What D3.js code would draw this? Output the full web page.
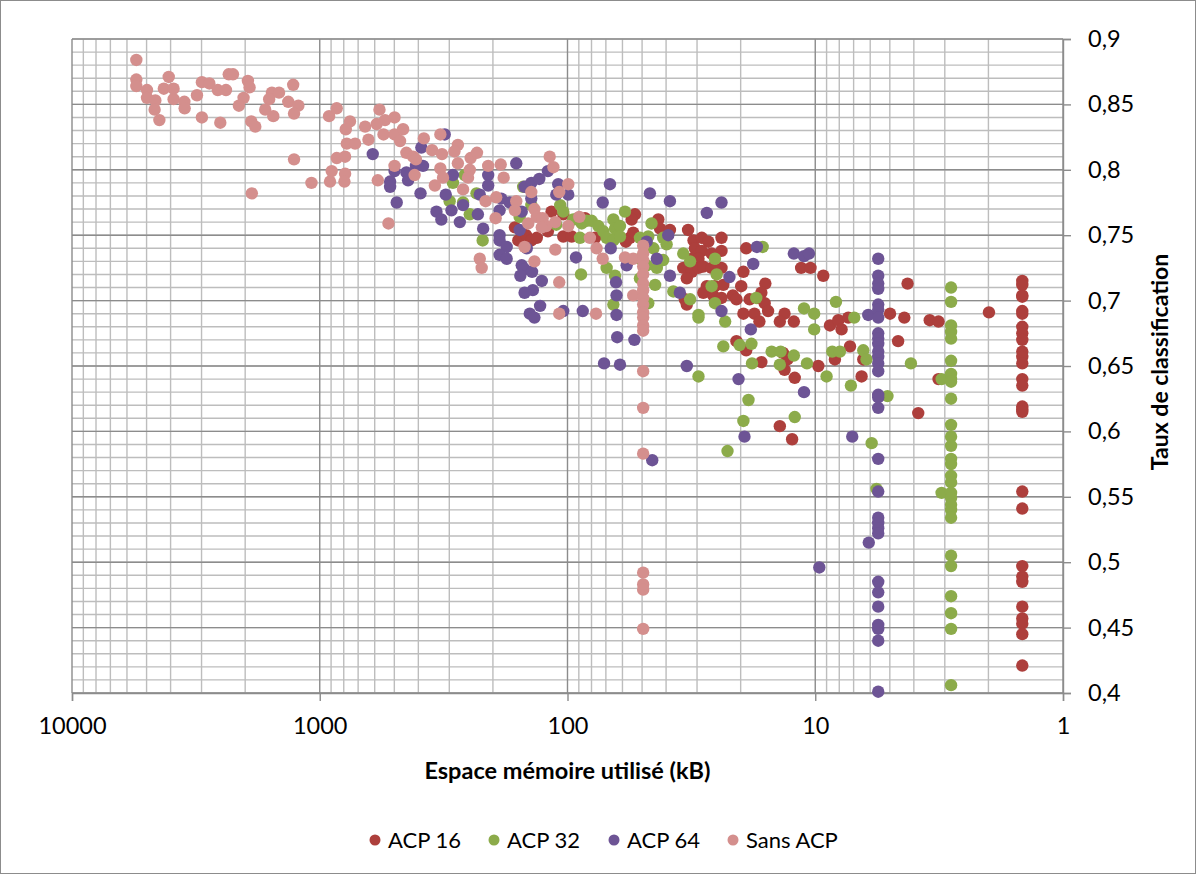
<!DOCTYPE html>
<html>
<head>
<meta charset="utf-8">
<script src="https://cdn.jsdelivr.net/npm/d3@7"></script>
<style>
  body { margin: 0; background: #fff; }
  text { font-family: Lato, "Open Sans", sans-serif; }
</style>
</head>
<body>
<div id="chart"></div>
<script>
// series: [memory in kB, classification rate]
var acp16 = [
  [163,0.756],[158,0.746],[147,0.750],[140,0.746],[133,0.748],[120,0.753],[116,0.768],[104,0.766],[104,0.749],
  [96.2,0.749],[90.5,0.763],[85.0,0.763],[77.4,0.748],[53.4,0.766],[55.1,0.762],[56.0,0.748],[54.3,0.752],[58.1,0.745],
  [43.0,0.762],[42.3,0.755],[38.6,0.754],[32.6,0.754],[31.0,0.746],[28.7,0.748],[27.0,0.745],[23.9,0.748],[30.6,0.740],
  [28.7,0.738],[31.5,0.732],[29.6,0.732],[26.2,0.736],[23.9,0.738],[34.1,0.725],[31.5,0.722],[29.6,0.725],[28.3,0.726],
  [26.2,0.725],[23.9,0.725],[33.0,0.717],[27.4,0.711],[25.4,0.711],[23.5,0.712],[28.3,0.706],[25.8,0.704],[33.6,0.701],
  [33.0,0.697],[23.9,0.702],[19.0,0.740],[19.5,0.722],[19.9,0.711],[15.9,0.713],[16.5,0.706],[21.5,0.704],[20.8,0.701],
  [17.0,0.702],[18.4,0.701],[16.0,0.698],[19.5,0.690],[17.6,0.690],[15.5,0.692],[16.8,0.684],[13.3,0.690],[13.9,0.684],
  [12.2,0.684],[11.4,0.725],[10.45,0.725],[9.28,0.719],[8.72,0.681],[8.07,0.685],[7.83,0.678],[7.36,0.687],[4.99,0.690],
  [4.37,0.687],[4.24,0.713],[4.63,0.669],[3.45,0.685],[3.18,0.684],[1.99,0.691],[7.24,0.665],[20.8,0.669],[19.0,0.662],
  [16.5,0.653],[13.5,0.660],[12.95,0.655],[9.72,0.650],[8.33,0.655],[6.40,0.655],[13.3,0.647],[12.1,0.641],[6.50,0.642],
  [3.18,0.640],[3.84,0.614],[13.9,0.604],[12.4,0.594],
  [1.46,0.715],[1.46,0.712],[1.46,0.704],[1.46,0.703],[1.46,0.692],[1.46,0.690],[1.46,0.680],[1.46,0.675],[1.46,0.670],
  [1.46,0.661],[1.46,0.657],[1.46,0.652],[1.46,0.640],[1.46,0.635],[1.46,0.619],[1.46,0.617],[1.46,0.615],[1.46,0.554],
  [1.46,0.541],[1.46,0.497],[1.46,0.489],[1.46,0.485],[1.46,0.466],[1.46,0.457],[1.46,0.453],[1.46,0.445],[1.46,0.421]
];

var acp32 = [
  [260,0.796],[290,0.790],[299,0.776],[264,0.775],[248,0.766],[233,0.782],[220,0.746],[151,0.787],[156,0.764],[140,0.773],
  [107,0.773],[104,0.768],[111,0.758],[94.8,0.762],[87.6,0.759],[83.7,0.761],[79.9,0.761],[89.0,0.748],[75.1,0.757],
  [71.7,0.753],[69.5,0.748],[65.3,0.762],[64.3,0.755],[61.4,0.757],[58.6,0.768],[63.3,0.749],[65.3,0.746],[61.4,0.749],
  [69.5,0.725],[64.3,0.719],[88.2,0.720],[65.3,0.697],[51.0,0.748],[47.2,0.749],[45.0,0.740],[45.8,0.759],[41.1,0.748],
  [39.8,0.743],[43.6,0.725],[41.1,0.731],[47.9,0.727],[44.3,0.712],[47.2,0.698],[51.0,0.717],[51.0,0.732],[34.1,0.736],
  [32.0,0.730],[37.4,0.707],[32.0,0.701],[29.6,0.689],[29.6,0.687],[25.4,0.732],[25.0,0.720],[26.2,0.711],[25.4,0.698],
  [23.1,0.684],[23.5,0.665],[29.6,0.642],[22.6,0.585],[16.3,0.741],[17.3,0.702],[11.1,0.694],[10.1,0.690],[10.1,0.678],
  [8.25,0.699],[6.96,0.687],[20.2,0.666],[18.1,0.667],[15.0,0.661],[13.8,0.661],[12.2,0.658],[18.0,0.652],[13.9,0.651],
  [10.8,0.652],[8.54,0.661],[7.95,0.661],[6.40,0.662],[6.21,0.655],[4.11,0.652],[9.0,0.642],[7.18,0.635],[5.11,0.627],
  [18.6,0.624],[19.5,0.608],[12.1,0.611],[5.92,0.591],[5.66,0.556],[3.09,0.640],[3.09,0.553],
  [2.83,0.710],[2.83,0.699],[2.83,0.681],[2.83,0.676],[2.83,0.671],[2.83,0.654],[2.83,0.644],[2.83,0.640],[2.83,0.638],
  [2.83,0.625],[2.83,0.605],[2.83,0.596],[2.83,0.589],[2.83,0.579],[2.83,0.575],[2.83,0.566],[2.83,0.561],[2.83,0.553],
  [2.83,0.549],[2.83,0.544],[2.83,0.540],[2.83,0.534],[2.83,0.505],[2.83,0.497],[2.83,0.474],[2.83,0.461],[2.83,0.449],
  [2.83,0.406]
];

var acp64 = [
  [611,0.812],[499,0.799],[520,0.791],[520,0.787],[489,0.775],[313,0.827],[389,0.817],[447,0.798],[440,0.792],[383,0.803],
  [409,0.803],[290,0.796],[392,0.782],[310,0.781],[338,0.768],[323,0.762],[294,0.769],[272,0.760],[264,0.773],[209,0.796],
  [209,0.788],[226,0.781],[230,0.766],[219,0.755],[185,0.778],[188,0.769],[171,0.775],[161,0.805],[149,0.787],[140,0.790],
  [130,0.793],[120,0.799],[140,0.778],[153,0.768],[156,0.754],[188,0.750],[188,0.746],[176,0.741],[188,0.735],[176,0.732],
  [146,0.740],[153,0.727],[149,0.724],[139,0.722],[155,0.719],[127,0.715],[138,0.708],[149,0.706],[129,0.696],[142,0.690],
  [136,0.687],[104,0.692],[86.8,0.692],[109,0.789],[99.3,0.781],[111,0.781],[67.4,0.789],[72.1,0.775],[46.5,0.782],
  [38.6,0.776],[23.9,0.775],[27.4,0.767],[92.4,0.733],[66.9,0.740],[63.7,0.714],[63.4,0.704],[63.4,0.689],[63.0,0.672],
  [53.7,0.670],[47.9,0.745],[39.2,0.750],[43.6,0.732],[57.7,0.727],[38.6,0.719],[35.2,0.706],[23.9,0.692],[71.2,0.652],
  [61.4,0.651],[33.0,0.650],[45.5,0.578],[17.2,0.741],[17.8,0.728],[22.2,0.718],[12.2,0.736],[11.1,0.734],[10.6,0.736],
  [18.2,0.678],[20.4,0.640],[11.1,0.630],[19.3,0.596],[7.09,0.596],[9.63,0.496],[6.11,0.689],[6.08,0.515],
  [5.57,0.732],[5.57,0.719],[5.57,0.713],[5.57,0.709],[5.57,0.697],[5.57,0.693],[5.57,0.687],[5.57,0.675],[5.57,0.671],
  [5.57,0.667],[5.57,0.661],[5.57,0.657],[5.57,0.652],[5.57,0.646],[5.57,0.628],[5.57,0.626],[5.57,0.618],[5.57,0.579],
  [5.57,0.554],[5.57,0.534],[5.57,0.530],[5.57,0.526],[5.57,0.522],[5.57,0.485],[5.57,0.477],[5.57,0.466],[5.57,0.452],
  [5.57,0.449],[5.57,0.440],[5.57,0.401]
];

var sansAcp = [
  [5500,0.884],[5500,0.869],[5500,0.864],[4980,0.861],[4980,0.855],[4610,0.853],[4640,0.846],[4440,0.838],[4070,0.871],
  [4260,0.862],[3890,0.862],[3890,0.854],[3520,0.852],[3510,0.847],[3130,0.857],[2990,0.867],[2790,0.866],[2580,0.861],
  [2390,0.861],[2990,0.840],[2520,0.836],[2330,0.873],[2240,0.873],[1950,0.868],[1920,0.863],[2030,0.855],[2120,0.849],
  [1890,0.837],[1820,0.833],[1560,0.859],[1460,0.859],[1600,0.854],[1660,0.846],[1540,0.841],[1340,0.852],[1220,0.849],
  [1270,0.843],[1280,0.865],[1270,0.808],[1880,0.782],[1080,0.790],
  [917,0.841],[854,0.847],[755,0.837],[785,0.831],[778,0.820],[720,0.820],[854,0.809],[790,0.810],[895,0.799],[790,0.797],
  [909,0.791],[795,0.791],[656,0.833],[636,0.823],[574,0.846],[545,0.838],[589,0.835],[553,0.827],[499,0.840],[499,0.827],
  [474,0.822],[583,0.792],[499,0.803],[528,0.759],
  [461,0.831],[447,0.813],[420,0.810],[409,0.808],[414,0.796],[380,0.824],[352,0.815],[326,0.827],[321,0.812],[326,0.801],
  [318,0.794],[343,0.788],[277,0.819],[286,0.814],[277,0.805],[246,0.809],[232,0.813],[248,0.800],[252,0.794],[264,0.785],
  [209,0.803],[186,0.804],[181,0.794],[194,0.779],[214,0.776],[195,0.763],[226,0.732],[222,0.725],[161,0.776],[163,0.769],
  [140,0.783],[136,0.770],[144,0.759],[133,0.764],[126,0.763],[122,0.757],[127,0.756],[112,0.760],[118,0.810],[114,0.802],
  [108,0.783],[99.3,0.789],[99.3,0.757],[89.6,0.764],[149,0.741],[136,0.730],[112,0.739],[108,0.714],[108,0.690],
  [76.7,0.690],[81.2,0.748],[76.3,0.740],[72.1,0.732],[58.6,0.733],[54.3,0.732],[54.3,0.704],
  [49.5,0.742],[49.5,0.736],[49.5,0.731],[49.5,0.726],[49.5,0.720],[49.5,0.713],[49.5,0.708],[49.5,0.702],[49.5,0.697],
  [49.5,0.691],[49.5,0.687],[49.5,0.681],[49.5,0.677],[49.5,0.646],[49.5,0.618],[49.5,0.583],[49.5,0.492],[49.5,0.483],
  [49.5,0.479],[49.5,0.449]
];

var seriesNames = ["ACP 16", "ACP 32", "ACP 64", "Sans ACP"];
var seriesColors = ["#ad3f3c", "#8cab4a", "#6d5495", "#d48f8d"];
var xTicks = [10000, 1000, 100, 10, 1];
var yTicks = [0.4, 0.45, 0.5, 0.55, 0.6, 0.65, 0.7, 0.75, 0.8, 0.85, 0.9];

var width = 1196;
var height = 875;
var margin = { left: 72, right: 133, top: 39, bottom: 182 };

var svg = d3.select('#chart')
    .append('svg')
    .attr('width', width)
    .attr('height', height);

// chart area border
svg.append('rect')
    .attr('x', 0.5).attr('y', 0.5)
    .attr('width', width - 1).attr('height', height - 2)
    .attr('fill', '#fff')
    .attr('stroke', '#8c8c8c');

var x = d3.scaleLog()
    .domain([10000, 1])
    .range([margin.left, width - margin.right]);
var y = d3.scaleLinear()
    .domain([0.4, 0.9])
    .range([height - margin.bottom, margin.top]);

var grid = svg.append('g');

// minor gridlines
var xMinor = [];
[1, 10, 100, 1000].forEach(function (p) {
    for (var k = 2; k <= 9; k++) xMinor.push(k * p);
});
var yMinor = d3.range(40, 91).map(d => d / 100);

grid.selectAll('.yminor')
    .data(yMinor)
    .enter()
    .append('line')
    .attr('x1', x(10000)).attr('x2', x(1))
    .attr('y1', d => y(d)).attr('y2', d => y(d))
    .attr('stroke', '#bdbdbd')
    .attr('stroke-width', 1.4);

grid.selectAll('.xminor')
    .data(xMinor)
    .enter()
    .append('line')
    .attr('x1', d => x(d)).attr('x2', d => x(d))
    .attr('y1', y(0.9)).attr('y2', y(0.4))
    .attr('stroke', '#bdbdbd')
    .attr('stroke-width', 1.4);

// major gridlines
grid.selectAll('.ymajor')
    .data(yTicks)
    .enter()
    .append('line')
    .attr('x1', x(10000)).attr('x2', x(1))
    .attr('y1', d => y(d)).attr('y2', d => y(d))
    .attr('stroke', '#8c8c8c')
    .attr('stroke-width', 1.4);

grid.selectAll('.xmajor')
    .data(xTicks)
    .enter()
    .append('line')
    .attr('x1', d => x(d)).attr('x2', d => x(d))
    .attr('y1', y(0.9)).attr('y2', y(0.4))
    .attr('stroke', '#8c8c8c')
    .attr('stroke-width', 1.4);

// axes
var fmt = d => String(+d.toFixed(2)).replace('.', ',');

var yAxis = svg.append('g')
    .attr('transform', 'translate(' + x(1) + ',0)')
    .call(d3.axisRight(y).tickValues(yTicks).tickSize(8).tickPadding(17).tickFormat(fmt));

var xAxis = svg.append('g')
    .attr('transform', 'translate(0,' + y(0.4) + ')')
    .call(d3.axisBottom(x).tickValues(xTicks).tickSize(8).tickPadding(16).tickFormat(d3.format('d')));

[yAxis, xAxis].forEach(function (a) {
    a.select('.domain').attr('stroke', '#8c8c8c').attr('stroke-width', 1.4);
    a.selectAll('.tick line').attr('stroke', '#8c8c8c').attr('stroke-width', 1.4);
    a.selectAll('.tick text').attr('fill', '#000').style('font-size', '23.5px');
});

// axis titles
svg.append('text')
    .attr('x', x(100))
    .attr('y', 779)
    .attr('text-anchor', 'middle')
    .style('font-size', '23.5px')
    .style('font-weight', 'bold')
    .text('Espace mémoire utilisé (kB)');

svg.append('text')
    .attr('transform', 'translate(1168,' + (y(0.65) - 4) + ') rotate(-90)')
    .attr('text-anchor', 'middle')
    .style('font-size', '23px')
    .style('font-weight', 'bold')
    .text('Taux de classification');

// points
var allSeries = [acp16, acp32, acp64, sansAcp];
var dotg = svg.append('g');
allSeries.forEach(function (data, i) {
    dotg.append('g')
        .selectAll('circle')
        .data(data)
        .enter()
        .append('circle')
        .attr('cx', d => x(d[0]))
        .attr('cy', d => y(d[1]))
        .attr('r', 6.2)
        .attr('fill', seriesColors[i]);
});

// legend
var legendX = [375, 494, 614, 733];
var legend = svg.append('g');
seriesNames.forEach(function (name, i) {
    legend.append('circle')
        .attr('cx', legendX[i])
        .attr('cy', 840)
        .attr('r', 5.5)
        .attr('fill', seriesColors[i]);
    legend.append('text')
        .attr('x', legendX[i] + 13)
        .attr('y', 848)
        .style('font-size', '22px')
        .text(name);
});
</script>
</body>
</html>
